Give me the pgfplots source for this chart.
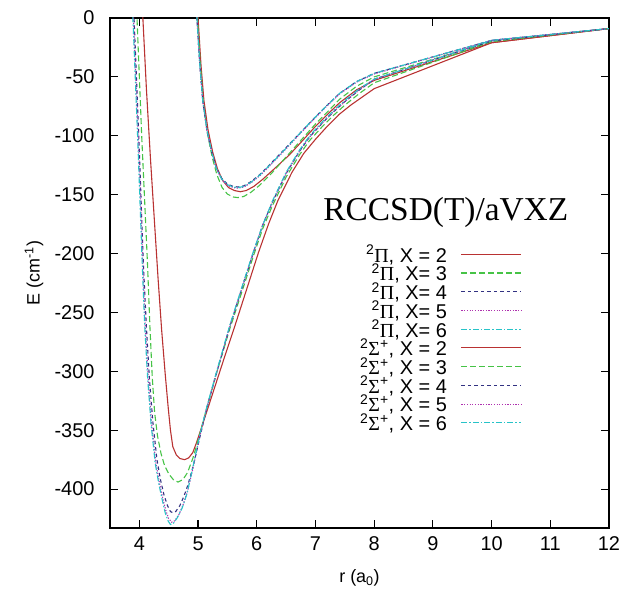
\documentclass[border=0pt]{standalone}
\usepackage{fontspec}
\setmainfont{Liberation Sans}
\newfontfamily\seriffont{Liberation Serif}
\usepackage{pgfplots}
\pgfplotsset{compat=1.18}
\definecolor{cred}{RGB}{185,50,50}
\definecolor{cgreen}{RGB}{70,195,70}
\definecolor{cnavy}{RGB}{50,50,130}
\definecolor{cmag}{RGB}{175,50,175}
\definecolor{ccyan}{RGB}{40,195,200}
\tikzset{
  sA/.style={draw=cred, line width=1.1bp},
  sB/.style={draw=cgreen, line width=1.1bp, dash pattern=on 6bp off 3bp},
  sC/.style={draw=cnavy, line width=1.1bp, dash pattern=on 3.5bp off 3bp},
  sD/.style={draw=cmag, line width=1.1bp, dash pattern=on 1.2bp off 1.5bp},
  sE/.style={draw=ccyan, line width=1.1bp, dash pattern=on 6bp off 2bp on 1.5bp off 2bp},
}
\newcommand{\st}{\rule[-6.3bp]{0pt}{20.6bp}}
\newcommand{\PiS}{\st\textsuperscript{2}{\seriffont Π}}
\newcommand{\SiS}{\st\textsuperscript{2}{\seriffont Σ}\textsuperscript{+}}
\begin{document}
\begin{tikzpicture}
\path[use as bounding box] (-110bp,-68bp) rectangle (523bp,528bp);
\begin{axis}[
  at={(0,0)}, anchor=south west,
  scale only axis, width=499bp, height=510bp,
  xmin=3.5, xmax=12, ymin=-433, ymax=0,
  xtick={4,5,...,12}, ytick={0,-50,...,-400},
  tick align=inside, major tick length=8bp,
  axis line style={line width=1.4bp},
  every tick/.style={line width=1.2bp, black},
  /pgf/number format/assume math mode=true,
  tick label style={font=\fontsize{20}{20}\selectfont},
  xticklabel style={yshift=-5bp},
  yticklabel style={xshift=-12bp},
  xlabel={r (a\textsubscript{0})}, ylabel={E (cm\textsuperscript{-1})},
  label style={font=\fontsize{18}{18}\selectfont},
  xlabel style={at={(axis description cs:0.5,-0.098)}, anchor=center},
  ylabel style={at={(axis description cs:-0.152,0.5)}, anchor=center},
  legend cell align=right,
  legend style={draw=none, fill=none, at={(0.826,0.5555)}, anchor=north east,
    inner sep=0pt, font=\fontsize{20}{20}\selectfont,
    nodes={inner sep=0pt},
    /tikz/column sep=14bp, row sep=0pt, legend plot pos=right},
  legend image code/.code={\draw[#1] (0bp,0bp) -- (60bp,0bp);},
]
\addlegendimage{sA}\addlegendentry{\PiS, X = 2}
\addlegendimage{sB}\addlegendentry{\PiS, X= 3}
\addlegendimage{sC}\addlegendentry{\PiS, X= 4}
\addlegendimage{sD}\addlegendentry{\PiS, X= 5}
\addlegendimage{sE}\addlegendentry{\PiS, X= 6}
\addlegendimage{sA}\addlegendentry{\SiS, X = 2}
\addlegendimage{sB}\addlegendentry{\SiS, X = 3}
\addlegendimage{sC}\addlegendentry{\SiS, X = 4}
\addlegendimage{sD}\addlegendentry{\SiS, X = 5}
\addlegendimage{sE}\addlegendentry{\SiS, X = 6}
% 2Pi X=2
\addplot[sA, forget plot] coordinates {(4.96,40) (5.00,0) (5.05,-40) (5.10,-70) (5.17,-95) (5.25,-114) (5.33,-128) (5.42,-138) (5.52,-144) (5.62,-146.5) (5.72,-147.5) (5.82,-146.5) (5.95,-143) (6.1,-137) (6.3,-128) (6.56,-116) (6.8,-103) (7.0,-92) (7.2,-82) (7.41,-72) (7.7,-61) (8.0,-53) (10,-21) (12,-9)};
% 2Pi X=3
\addplot[sB, forget plot] coordinates {(4.95,40) (4.99,0) (5.04,-40) (5.09,-72) (5.16,-98) (5.24,-118) (5.32,-133) (5.41,-144) (5.5,-149.5) (5.6,-152) (5.68,-152.5) (5.78,-151.5) (5.9,-148) (6.05,-142) (6.25,-132) (6.5,-118) (6.75,-104) (7.0,-90) (7.2,-80) (7.41,-69) (7.7,-58) (8.0,-50) (10,-20) (12,-9)};
% 2Pi X=4
\addplot[sC, forget plot] coordinates {(4.94,40) (4.98,0) (5.03,-40) (5.08,-70) (5.15,-95) (5.23,-113) (5.31,-127) (5.4,-136) (5.5,-141) (5.6,-143) (5.68,-143.5) (5.78,-142.5) (5.9,-139) (6.05,-133) (6.25,-123) (6.5,-110) (6.75,-97) (7.0,-84) (7.2,-74) (7.41,-64) (7.7,-54) (8.0,-47) (10,-19) (12,-9)};
% 2Pi X=5
\addplot[sD, forget plot] coordinates {(4.94,40) (4.98,0) (5.03,-40) (5.08,-70.5) (5.15,-95.5) (5.23,-113.5) (5.31,-127.5) (5.4,-137) (5.5,-142) (5.6,-144) (5.68,-144.5) (5.78,-143.5) (5.9,-140) (6.05,-134) (6.25,-124) (6.5,-111) (6.75,-97.5) (7.0,-84.5) (7.2,-74.5) (7.41,-64.5) (7.7,-54.5) (8.0,-47.5) (10,-19) (12,-9)};
% 2Pi X=6
\addplot[sE, forget plot] coordinates {(4.94,40) (4.98,0) (5.03,-40) (5.08,-70) (5.15,-95) (5.23,-113) (5.31,-127.5) (5.4,-136.5) (5.5,-141.5) (5.6,-143.5) (5.68,-144) (5.78,-143) (5.9,-139.5) (6.05,-133.5) (6.25,-123.5) (6.5,-110.5) (6.75,-97) (7.0,-84) (7.2,-74) (7.41,-64) (7.7,-54) (8.0,-47) (10,-19) (12,-9)};
% 2Sigma X=2
\addplot[sA, forget plot] coordinates {(4.03,60) (4.06,0) (4.12,-60) (4.19,-120) (4.26,-175) (4.32,-222) (4.38,-265) (4.44,-302) (4.49,-330) (4.53,-350) (4.57,-364) (4.63,-371) (4.69,-374) (4.77,-375) (4.84,-373.5) (4.91,-369) (4.97,-361) (5.03,-352) (5.15,-334) (5.3,-311) (5.45,-288) (5.63,-261) (5.83,-230) (6.03,-199) (6.2,-175) (6.36,-155) (6.6,-131) (6.8,-115) (7.0,-103) (7.2,-92) (7.4,-82) (7.6,-74) (8.0,-60) (10,-21) (12,-9)};
% 2Sigma X=3
\addplot[sB, forget plot] coordinates {(3.93,60) (3.96,0) (4.00,-50) (4.04,-100) (4.09,-155) (4.14,-210) (4.18,-262) (4.22,-305) (4.26,-335) (4.31,-355) (4.37,-370) (4.43,-380) (4.5,-387) (4.58,-392) (4.66,-394) (4.74,-392) (4.82,-386) (4.91,-374) (4.97,-364) (5.03,-353) (5.15,-331) (5.3,-304) (5.54,-264) (5.75,-232) (5.95,-201) (6.1,-179) (6.27,-159) (6.5,-135) (6.73,-116) (6.9,-104) (7.12,-92) (7.3,-83) (7.5,-74) (7.75,-64) (8,-55) (10,-20) (12,-9)};
% 2Sigma X=4
\addplot[sC, forget plot] coordinates {(3.88,60) (3.91,0) (3.95,-50) (3.99,-100) (4.03,-155) (4.07,-210) (4.12,-262) (4.17,-305) (4.23,-343) (4.30,-375) (4.36,-392) (4.42,-405) (4.48,-414) (4.53,-419) (4.57,-420) (4.62,-419) (4.69,-414) (4.76,-406) (4.83,-396) (4.92,-380) (5.03,-356) (5.15,-331) (5.3,-304) (5.54,-262) (5.75,-229) (5.95,-198) (6.1,-176) (6.27,-156) (6.5,-132) (6.73,-113) (6.9,-101) (7.12,-89) (7.3,-80) (7.5,-71) (7.75,-61) (8,-52) (10,-19.5) (12,-9)};
% 2Sigma X=5
\addplot[sD, forget plot] coordinates {(3.87,60) (3.90,0) (3.94,-50) (3.98,-100) (4.02,-155) (4.06,-210) (4.10,-260) (4.15,-305) (4.21,-345) (4.28,-377) (4.34,-394) (4.39,-406) (4.45,-418) (4.5,-425) (4.55,-428) (4.6,-427) (4.67,-422) (4.74,-414) (4.82,-402) (4.91,-383) (5.03,-355) (5.15,-331) (5.3,-304) (5.54,-262) (5.75,-229) (5.95,-198) (6.1,-176) (6.27,-156) (6.5,-132) (6.73,-113) (6.9,-101) (7.12,-89) (7.3,-80) (7.5,-71) (7.75,-61) (8,-52) (10,-19) (12,-9)};
% 2Sigma X=6
\addplot[sE, forget plot] coordinates {(3.86,60) (3.89,0) (3.93,-50) (3.97,-100) (4.01,-155) (4.05,-210) (4.09,-260) (4.14,-305) (4.2,-345) (4.27,-378) (4.33,-395) (4.38,-407) (4.44,-420) (4.49,-427) (4.53,-430) (4.58,-429) (4.65,-424) (4.73,-416) (4.81,-404) (4.9,-384) (5.03,-354) (5.15,-330) (5.3,-303) (5.54,-261) (5.75,-228) (5.95,-197) (6.1,-176) (6.27,-155) (6.5,-131) (6.73,-112) (6.9,-100) (7.12,-88) (7.3,-79) (7.5,-70) (7.75,-60) (8.0,-52) (10,-19) (12,-9)};
\node[font=\seriffont\fontsize{33.5}{33.5}\selectfont] at (rel axis cs:0.673,0.618) {RCCSD(T)/aVXZ};
\end{axis}
\end{tikzpicture}
\end{document}
